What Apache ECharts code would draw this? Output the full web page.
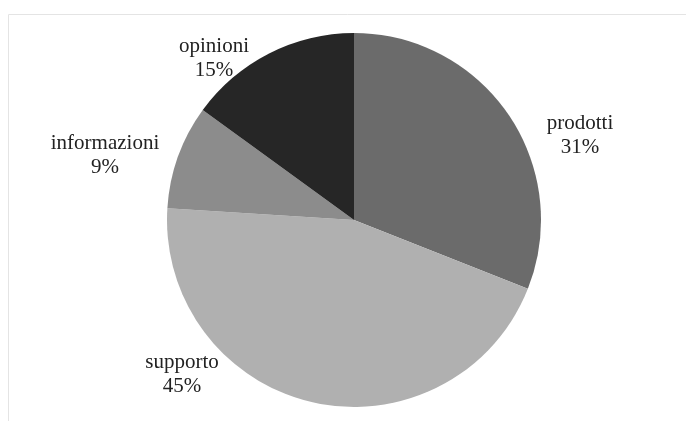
<!DOCTYPE html>
<html>
<head>
<meta charset="utf-8">
<script src="https://cdn.jsdelivr.net/npm/echarts@6/dist/echarts.min.js"></script>
<style>
  html, body { margin: 0; padding: 0; background: #fff; }
  #chart { width: 686px; height: 421px; }
</style>
</head>
<body>
<div id="chart"></div>
<script>
var categories = ['prodotti', 'supporto', 'informazioni', 'opinioni'];
var values = [31, 45, 9, 15];
var sliceColors = ['#6b6b6b', '#b0b0b0', '#8c8c8c', '#262626'];
// where the text block of each label sits (centre, px)
var labelPos = [[580, 135], [182, 374], [105, 155], [214, 58]];

var chart = echarts.init(document.getElementById('chart'));

var pieData = categories.map(function (name, i) {
    return { name: name, value: values[i], itemStyle: { color: sliceColors[i] } };
});

var option = {
    animation: false,
    graphic: [{
        type: 'rect',
        shape: { x: 8.5, y: 14.5, width: 700, height: 420 },
        style: { fill: 'none', stroke: '#e4e4e4', lineWidth: 1 },
        silent: true
    }],
    series: [{
        type: 'pie',
        center: [354, 220],
        radius: [0, 187],
        startAngle: 90,
        clockwise: true,
        data: pieData,
        itemStyle: { borderWidth: 0 },
        emphasis: { disabled: true },
        label: {
            show: true,
            position: 'outside',
            formatter: function (p) { return p.name + '\n' + p.value + '%'; },
            fontFamily: 'Liberation Serif',
            fontSize: 21,
            lineHeight: 24,
            color: '#222',
            align: 'center'
        },
        labelLine: { show: false },
        labelLayout: function (params) {
            var pos = labelPos[params.dataIndex];
            return {
                x: pos[0],
                y: pos[1],
                align: 'center',
                verticalAlign: 'middle'
            };
        }
    }]
};

chart.setOption(option);
</script>
</body>
</html>
